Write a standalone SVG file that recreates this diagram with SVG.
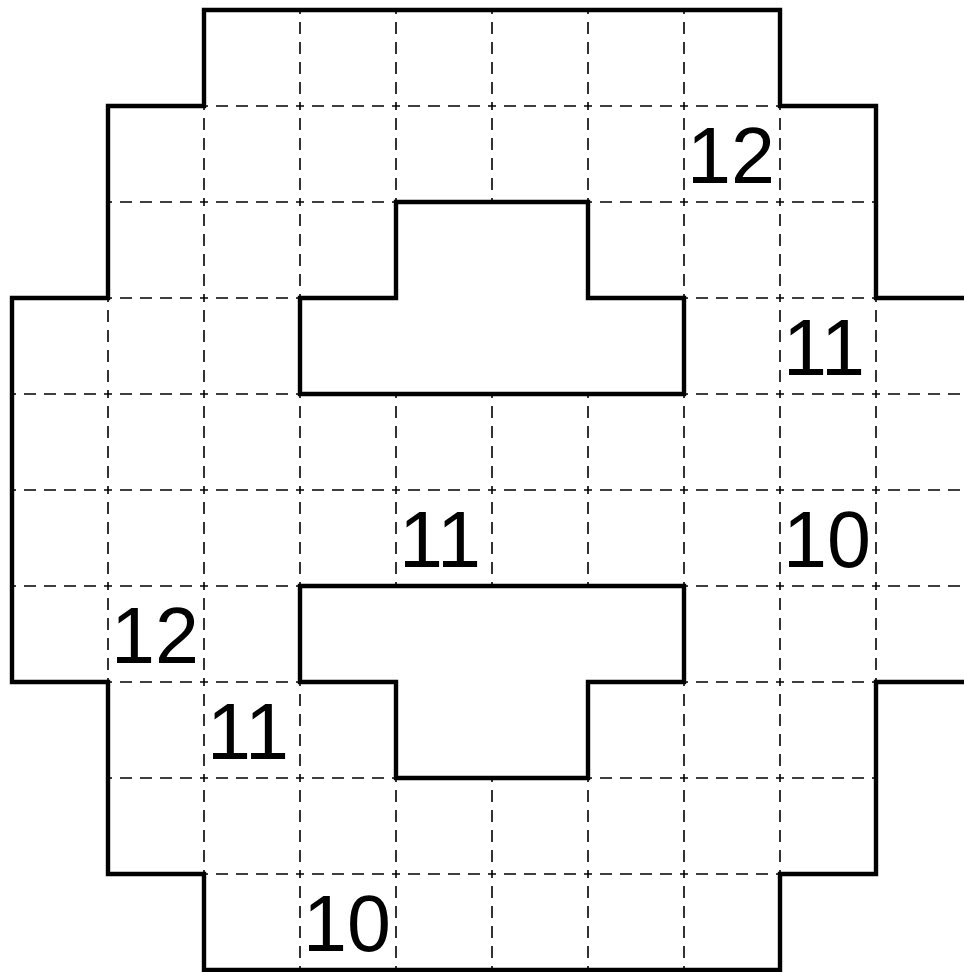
<svg xmlns="http://www.w3.org/2000/svg" width="964" height="972" viewBox="0 0 964 972">
<style>
.g{stroke:#000;stroke-width:1.6;fill:none;stroke-dasharray:8 8 12 8 12 8 12 8 12 8;stroke-dashoffset:4}
.b{stroke:#000;stroke-width:4.4;fill:none;stroke-linejoin:miter;stroke-linecap:square}
.t{font-family:"Liberation Sans",Arial,sans-serif;font-size:79px;fill:#000}
</style>
<rect width="964" height="972" fill="#fff"/>
<g id="grid">
<path class="g" d="M204 106H780M108 202H396M588 202H876M108 298H300M684 298H876M12 394H300M684 394H972M12 490H972M12 586H300M684 586H972M108 682H300M684 682H876M108 778H396M588 778H876M204 874H780"/>
<path class="g" d="M108 298V682M204 106V874M300 10V298M300 394V586M300 682V970M396 10V202M396 394V586M396 778V970M492 10V202M492 394V586M492 778V970M588 10V202M588 394V586M588 778V970M684 10V298M684 394V586M684 682V970M780 106V874M876 298V682"/>
</g>
<g id="outer">
<path class="b" d="M204 10H780V106H876V298H972V682H876V874H780V970H204V874H108V682H12V298H108V106H204Z"/>
</g>
<g id="inner-top">
<path class="b" d="M396 202H588V298H684V394H300V298H396Z"/>
</g>
<g id="inner-bottom">
<path class="b" d="M300 586H684V682H588V778H396V682H300Z"/>
</g>
<g id="labels">
<text class="t" x="687" y="183">12</text>
<text class="t" x="783" y="375">11</text>
<text class="t" x="399" y="567">11</text>
<text class="t" x="783" y="567">10</text>
<text class="t" x="111" y="663">12</text>
<text class="t" x="207" y="759">11</text>
<text class="t" x="303" y="951">10</text>
</g>
</svg>
